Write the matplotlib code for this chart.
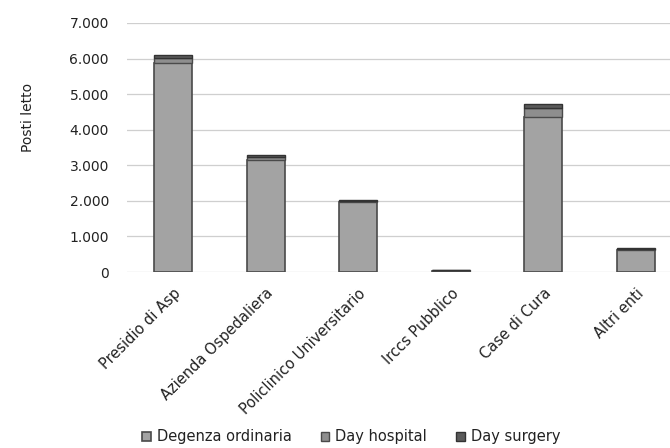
import matplotlib.pyplot as plt
import numpy as np
from matplotlib.ticker import FuncFormatter

categorie = ['Presidio di Asp', 'Azienda Ospedaliera', 'Policlinico Universitario',
             'Irccs Pubblico', 'Case di Cura', 'Altri enti']
degenza_ordinaria = [5870, 3150, 1960, 40, 4360, 630]
day_hospital = [160, 90, 40, 10, 250, 30]
day_surgery = [80, 50, 20, 5, 110, 10]

plt.rcParams['font.family'] = ['DejaVu Sans']

fig = plt.figure(figsize=(6.7, 4.48), dpi=100)
ax = fig.add_axes([127 / 670, 1 - 272 / 448, 555 / 670, 249 / 448])

x = np.arange(len(categorie))
w = 0.41
b1 = np.array(degenza_ordinaria)
b2 = b1 + np.array(day_hospital)
ax.bar(x, degenza_ordinaria, w, color='#a3a3a3', edgecolor='#4a4a4a', linewidth=1.2,
       label='Degenza ordinaria', zorder=3)
ax.bar(x, day_hospital, w, bottom=b1, color='#8e8e8e', edgecolor='#4a4a4a', linewidth=1.0,
       label='Day hospital', zorder=3)
ax.bar(x, day_surgery, w, bottom=b2, color='#5a5a5a', edgecolor='#333333', linewidth=1.0,
       label='Day surgery', zorder=3)

ax.set_xlim(-0.5, len(categorie) - 0.5)
ax.set_ylim(0, 7000)
ax.set_yticks(range(0, 7001, 1000))
ax.yaxis.set_major_formatter(FuncFormatter(lambda v, p: f'{int(v):,}'.replace(',', '.')))
ax.grid(axis='y', color='#cfcfcf', linewidth=0.9, zorder=0)
for s in ax.spines.values():
    s.set_visible(False)
ax.tick_params(axis='y', length=0, labelsize=10, colors='#222222', pad=13)
ax.set_xticks(x)
ax.set_xticklabels(categorie, rotation=45, ha='right', rotation_mode='anchor',
                   fontsize=10.5, color='#222222')
ax.tick_params(axis='x', length=0, pad=10)
ax.set_ylabel('Posti letto', fontsize=10, color='#222222')
ax.yaxis.set_label_coords(-0.166, 0.62)

fig.legend(loc='center', bbox_to_anchor=(0.524, 0.025), ncol=3, frameon=False,
           fontsize=10.5, handlelength=0.6, handleheight=0.6, columnspacing=2.0,
           handletextpad=0.4, labelcolor='#222222')

plt.savefig('out.png', dpi=100)
